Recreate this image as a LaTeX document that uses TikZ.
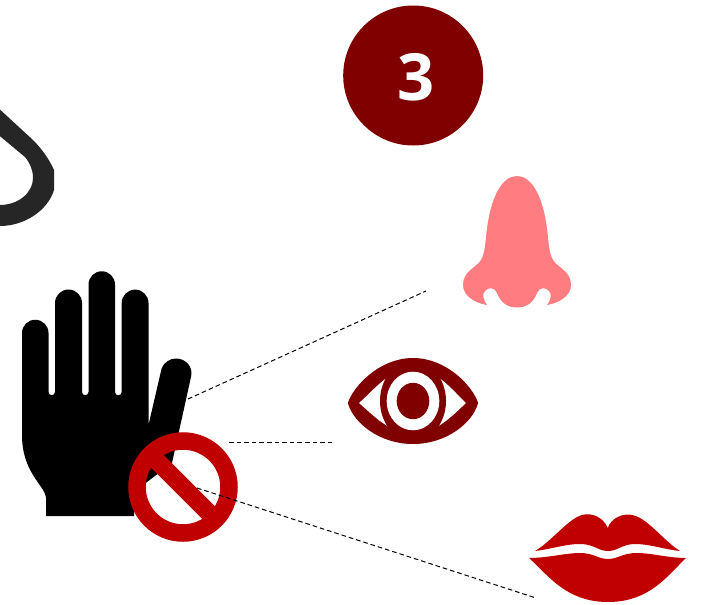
\documentclass[tikz,border=0pt]{standalone}
\usepackage{fontspec}
\setmainfont{Open Sans}
\definecolor{maroonx}{HTML}{800000}
\definecolor{redx}{HTML}{C00000}
\definecolor{nosex}{HTML}{FF7C80}
\definecolor{tailx}{HTML}{262626}
\begin{document}
\begin{tikzpicture}[x=1pt,y=-1pt,
  leader/.style={black,line width=1pt,dash pattern=on 4.6pt off 3pt},
  badge/.style={circle,fill=maroonx,inner sep=0pt,minimum size=140pt},
  badgetext/.style={text=white,inner sep=0pt,font=\fontsize{65}{70}\selectfont\bfseries}]
\useasboundingbox (0,0) rectangle (702,605);
\fill[white] (0,0) rectangle (702,605);
% partial shape at left edge
\begin{scope}
\clip (0,0) rectangle (702,605);
\fill[tailx] (-5,105) -- (33,140) .. controls (42,149) and (49,159) .. (54,170) -- (54,190)
  .. controls (48,210) and (25,226) .. (0,226) -- (-5,226) -- (-5,205) -- (0,205)
  .. controls (18,205) and (33,193) .. (33,178) .. controls (33,170) and (30,163) .. (25,157) -- (-5,132) -- cycle;
\end{scope}
% badge
\node[badge] (badge) at (413.2,75.5) {};
\node[badgetext] (badgenum) at (416,77.5) {3};
% hand
\fill[black] (22,333) arc[start angle=180,end angle=360,radius=13.25]
  -- (48.5,392) arc[start angle=180,end angle=0,radius=3.25] -- (55,303)
  arc[start angle=180,end angle=360,radius=13.5]
  -- (82,392) arc[start angle=180,end angle=0,radius=3.25] -- (88.5,284.5)
  arc[start angle=180,end angle=360,radius=13.25]
  -- (115,392) arc[start angle=180,end angle=0,radius=3.35] -- (121.7,303)
  arc[start angle=180,end angle=360,radius=13.4]
  -- (148.5,425) -- (161.5,369)
  .. controls (164,362) and (170,358.5) .. (176,358.5)
  .. controls (186,358.5) and (193,367) .. (191.2,376)
  -- (172,463) -- (147,482) -- (134,492) -- (134,516) -- (46,516) -- (46,497)
  .. controls (44,485) and (22,472) .. (22,435) -- cycle;
% prohibition sign
\begin{scope}
\clip (183,487) circle[radius=46];
\draw[redx,line width=17.7pt] (150,454) -- (216,520);
\end{scope}
\node[circle,draw=redx,line width=17.5pt,minimum size=92pt,inner sep=0pt,outer sep=0pt] (ring) at (183,487) {};
% nose
\fill[nosex] (517,176) .. controls (532,176) and (542,197) .. (546,222)
  .. controls (549,240) and (548,251) .. (553,260)
  .. controls (558,268) and (571,271) .. (571,285)
  .. controls (571,296) and (559,303) .. (547,305)
  .. controls (551,300) and (552,294) .. (549,291)
  .. controls (546,287) and (539,287) .. (537,293)
  .. controls (534,301) and (528,307.5) .. (517,307.5)
  .. controls (506,307.5) and (500,301) .. (497,293)
  .. controls (495,287) and (488,287) .. (485,291)
  .. controls (482,294) and (483,300) .. (487,305)
  .. controls (475,303) and (463,296) .. (463,285)
  .. controls (463,271) and (476,268) .. (481,260)
  .. controls (486,251) and (485,240) .. (488,222)
  .. controls (492,197) and (502,176) .. (517,176) -- cycle;
% eye
\filldraw[maroonx,line width=4pt,line join=round] (350,403) .. controls (355,388) and (380,360) .. (413,360)
  .. controls (446,360) and (471,388) .. (476,403)
  .. controls (471,421) and (446,442) .. (413,442)
  .. controls (380,442) and (355,421) .. (350,403) -- cycle;
\fill[white] (359,403) .. controls (372,392) and (390,368) .. (413,368)
  .. controls (436,368) and (454,392) .. (466,403)
  .. controls (454,414) and (436,434) .. (413,434)
  .. controls (390,434) and (372,414) .. (359,403) -- cycle;
\fill[maroonx] (413,401) ellipse[x radius=33,y radius=40];
\fill[white] (413,401) ellipse[x radius=26.3,y radius=29.3];
\fill[maroonx] (413,401) ellipse[x radius=16.3,y radius=18.2];
% lips
\fill[redx] (535,551) .. controls (552,541) and (568,519) .. (582,515)
  .. controls (592,512) and (604,518) .. (607.7,528)
  .. controls (611,518) and (624,512) .. (634,515.5)
  .. controls (648,519) and (664,541) .. (680,551)
  .. controls (662,549) and (650,544) .. (635,544)
  .. controls (622,544) and (618,551) .. (608,551)
  .. controls (598,551) and (594,544) .. (580,544)
  .. controls (565,544) and (552,549) .. (535,551) -- cycle;
\fill[redx] (529,558) .. controls (548,558) and (565,553) .. (580,553)
  .. controls (594,553) and (598,559) .. (608,559)
  .. controls (618,559) and (622,553) .. (637,553)
  .. controls (652,553) and (668,558) .. (686,558)
  .. controls (668,575) and (650,602) .. (608,602)
  .. controls (566,602) and (548,575) .. (529,558) -- cycle;
% leaders
\coordinate (l1a) at (188,399); \coordinate (l1b) at (426,291);
\coordinate (l2a) at (229,442); \coordinate (l2b) at (333,442);
\coordinate (l3a) at (197,488); \coordinate (l3b) at (536,598);
\draw[leader] (l1a) -- (l1b);
\draw[leader] (l2a) -- (l2b);
\draw[leader] (l3a) -- (l3b);
\end{tikzpicture}
\end{document}
